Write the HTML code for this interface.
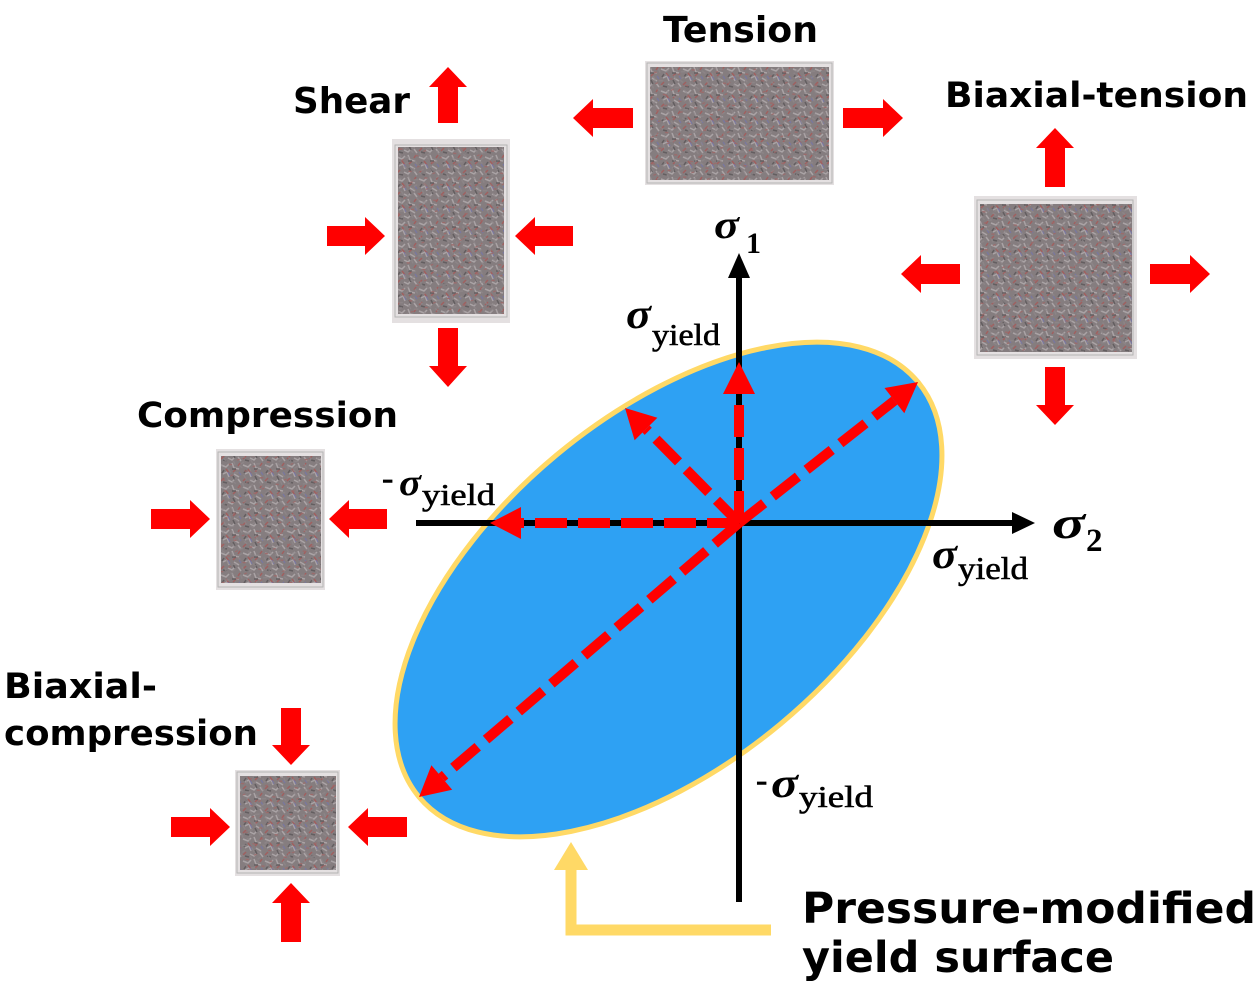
<!DOCTYPE html>
<html><head><meta charset="utf-8"><style>
html,body{margin:0;padding:0;background:#fff;}
svg{display:block;}
.lb{font-family:"DejaVu Sans","Liberation Sans",sans-serif;font-weight:bold;fill:#000;}
.sg{font-family:"Liberation Serif",serif;font-style:italic;font-weight:bold;fill:#000;}
.sb{font-family:"Liberation Serif",serif;fill:#000;stroke:#000;stroke-width:0.6;}
.sd{font-family:"Liberation Serif",serif;font-weight:bold;fill:#000;}
</style></head><body>
<svg width="1260" height="993" viewBox="0 0 1260 993" xmlns="http://www.w3.org/2000/svg">
<defs>
<pattern id="mol" width="22" height="22" patternUnits="userSpaceOnUse">
<rect width="22" height="22" fill="#857d7f"/>
<path d="M1 3l5 2l3-3M12 1l2 5l5 1M3 12l4-2l2 5M14 12l5 3M8 18l4 2l3-3M18 17l3 4" stroke="#aaa3a5" stroke-width="1.5" fill="none"/>
<path d="M6 7l3 4M16 7l-3 3M1 19l3-3M20 1l-2 3" stroke="#a0605f" stroke-width="1.5" fill="none"/>
<path d="M10 14l-2-4M19 10l2 3" stroke="#7476a8" stroke-width="1.2" fill="none" opacity="0.8"/>
<path d="M4 8l-2 3M12 7l4 0M15 18l-2-4M7 21l-4-1" stroke="#635e60" stroke-width="1.5" fill="none"/>
</pattern>
<pattern id="mol2" width="17" height="17" patternUnits="userSpaceOnUse" patternTransform="rotate(23)">
<path d="M2 2l4 3M9 4l4-2M4 10l3 3M11 12l4 1M14 7l-2 3" stroke="#8f8789" stroke-width="1.3" fill="none" opacity="0.8"/>
<path d="M7 8l2-2M1 15l3-1" stroke="#9c6a6a" stroke-width="1.2" fill="none"/>
</pattern>
</defs>
<rect width="1260" height="993" fill="#fff"/>

<!-- molecule boxes -->
<g>
<rect x="645" y="61" width="189" height="124" fill="#e4e0e1"/>
<rect x="650" y="67" width="179" height="113" fill="url(#mol)"/>
<rect x="650" y="67" width="179" height="113" fill="url(#mol2)"/>
<rect x="647" y="63" width="185" height="120" fill="none" stroke="#b4b4b4" stroke-width="1"/>

<rect x="392" y="139" width="118" height="184" fill="#e4e0e1"/>
<rect x="398" y="147" width="106" height="167" fill="url(#mol)"/>
<rect x="398" y="147" width="106" height="167" fill="url(#mol2)"/>
<rect x="395" y="145" width="112" height="172" fill="none" stroke="#b4b4b4" stroke-width="1"/>

<rect x="974" y="196" width="163" height="163" fill="#e4e0e1"/>
<rect x="980" y="204" width="152" height="148" fill="url(#mol)"/>
<rect x="980" y="204" width="152" height="148" fill="url(#mol2)"/>
<rect x="977" y="200" width="156" height="155" fill="none" stroke="#b4b4b4" stroke-width="1"/>

<rect x="216" y="449" width="109" height="141" fill="#e4e0e1"/>
<rect x="221" y="456" width="100" height="127" fill="url(#mol)"/>
<rect x="221" y="456" width="100" height="127" fill="url(#mol2)"/>
<rect x="218" y="452" width="105" height="135" fill="none" stroke="#b4b4b4" stroke-width="1"/>

<rect x="235" y="770" width="105" height="106" fill="#e4e0e1"/>
<rect x="240" y="776" width="96" height="94" fill="url(#mol)"/>
<rect x="240" y="776" width="96" height="94" fill="url(#mol2)"/>
<rect x="237" y="772" width="101" height="101" fill="none" stroke="#b4b4b4" stroke-width="1"/>
</g>

<!-- red block arrows -->
<g fill="#ff0000">
<polygon points="633,108 593,108 593,99 573,118 593,137 593,128 633,128"/>
<polygon points="843,108 883,108 883,99 903,118 883,137 883,128 843,128"/>
<polygon points="438,123 438,87 429,87 448,67 467,87 458,87 458,123"/>
<polygon points="438,328 438,366 429,366 448,387 467,366 458,366 458,328"/>
<polygon points="327,226 365,226 365,217 385,236 365,255 365,246 327,246"/>
<polygon points="573,226 535,226 535,217 515,236 535,255 535,246 573,246"/>
<polygon points="1045,187 1045,148 1036,148 1055,128 1074,148 1065,148 1065,187"/>
<polygon points="1045,367 1045,405 1036,405 1055,425 1074,405 1065,405 1065,367"/>
<polygon points="960,264 921,264 921,255 901,274 921,293 921,284 960,284"/>
<polygon points="1150,264 1190,264 1190,255 1210,274 1190,293 1190,284 1150,284"/>
<polygon points="151,509 190,509 190,500 210,519 190,538 190,529 151,529"/>
<polygon points="387,509 349,509 349,500 329,519 349,538 349,529 387,529"/>
<polygon points="281,708 281,745 272,745 291,765 310,745 301,745 301,708"/>
<polygon points="281,942 281,903 272,903 291,883 310,903 301,903 301,942"/>
<polygon points="171,817 210,817 210,808 230,827 210,846 210,837 171,837"/>
<polygon points="407,817 368,817 368,808 348,827 368,846 368,837 407,837"/>
</g>

<!-- ellipse -->
<ellipse cx="668.5" cy="589.5" rx="324.5" ry="175" transform="rotate(-39.75 668.5 589.5)" fill="#2ea1f3" stroke="#ffd966" stroke-width="5"/>

<!-- axes -->
<line x1="416" y1="523" x2="1014" y2="523" stroke="#000" stroke-width="6"/>
<polygon points="1035,523 1012,512 1012,534" fill="#000"/>
<line x1="739" y1="902" x2="739" y2="276" stroke="#000" stroke-width="6"/>
<polygon points="739,253 728,278 750,278" fill="#000"/>

<!-- red dashed arrows -->
<g stroke="#ff0000" stroke-width="10" stroke-dasharray="32 11" fill="none">
<line x1="739" y1="523" x2="739" y2="392"/>
<line x1="739" y1="523" x2="646" y2="429"/>
<line x1="739" y1="523" x2="520" y2="523"/>
<line x1="739" y1="523" x2="894.4" y2="400.6"/>
<line x1="739" y1="523" x2="441.8" y2="777.5"/>
</g>
<g fill="#ff0000">
<polygon points="739,362 723,394 755,394"/>
<polygon points="625,408 657.4,417.7 634.6,440.3"/>
<polygon points="490,523 521,507 521,539"/>
<polygon points="918,382 904.3,413.2 884.5,388"/>
<polygon points="419,797 452.2,789.7 431.4,765.3"/>
</g>

<!-- yellow callout -->
<polyline points="771,930 571,930 571,866" fill="none" stroke="#ffd966" stroke-width="11"/>
<polygon points="571,842 554,870 588,870" fill="#ffd966"/>

<!-- sigma labels -->
<text class="sg" x="714" y="238" font-size="40" textLength="25" lengthAdjust="spacingAndGlyphs">σ</text>
<text class="sd" x="746" y="253" font-size="30">1</text>
<text class="sg" x="1052" y="538" font-size="46" textLength="33" lengthAdjust="spacingAndGlyphs">σ</text>
<text class="sd" x="1086" y="551" font-size="33">2</text>

<text class="sg" x="626" y="328" font-size="42" textLength="25" lengthAdjust="spacingAndGlyphs">σ</text>
<text class="sb" x="652" y="345" font-size="31" textLength="68" lengthAdjust="spacingAndGlyphs">yield</text>

<text class="sg" x="932" y="568" font-size="42" textLength="25" lengthAdjust="spacingAndGlyphs">σ</text>
<text class="sb" x="958" y="579" font-size="32" textLength="70" lengthAdjust="spacingAndGlyphs">yield</text>

<text class="sb" x="382" y="489" font-size="34">-</text>
<text class="sg" x="399" y="495" font-size="38" textLength="22" lengthAdjust="spacingAndGlyphs">σ</text>
<text class="sb" x="422" y="505" font-size="31" textLength="73" lengthAdjust="spacingAndGlyphs">yield</text>

<text class="sb" x="756" y="791" font-size="34">-</text>
<text class="sg" x="771" y="797" font-size="42" textLength="27" lengthAdjust="spacingAndGlyphs">σ</text>
<text class="sb" x="799" y="807" font-size="31" textLength="74" lengthAdjust="spacingAndGlyphs">yield</text>

<!-- black labels -->
<text class="lb" x="663" y="42" font-size="36" textLength="155" lengthAdjust="spacingAndGlyphs">Tension</text>
<text class="lb" x="293" y="113" font-size="36" textLength="117" lengthAdjust="spacingAndGlyphs">Shear</text>
<text class="lb" x="945" y="107" font-size="35" textLength="303" lengthAdjust="spacingAndGlyphs">Biaxial-tension</text>
<text class="lb" x="137" y="427" font-size="35" textLength="261" lengthAdjust="spacingAndGlyphs">Compression</text>
<text class="lb" x="4" y="698" font-size="35" textLength="153" lengthAdjust="spacingAndGlyphs">Biaxial-</text>
<text class="lb" x="4" y="745" font-size="35" textLength="254" lengthAdjust="spacingAndGlyphs">compression</text>
<text class="lb" x="802" y="923" font-size="43" textLength="454" lengthAdjust="spacingAndGlyphs">Pressure-modified</text>
<text class="lb" x="802" y="972" font-size="43" textLength="312" lengthAdjust="spacingAndGlyphs">yield surface</text>
</svg>
</body></html>
